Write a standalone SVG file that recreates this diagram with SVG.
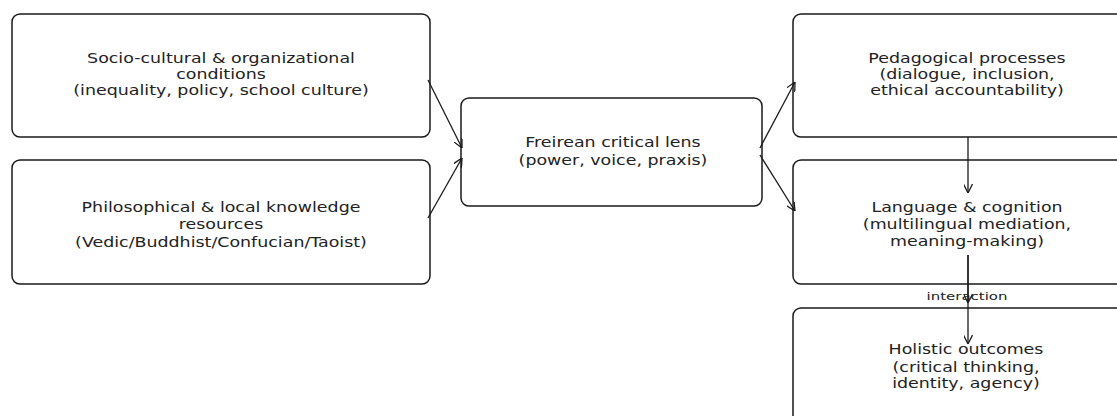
<svg xmlns="http://www.w3.org/2000/svg" width="1117" height="416" viewBox="0 0 1117 416">
<style>
.box{fill:#ffffff;stroke:#1a1a1a;stroke-width:1.5}
.t{font-family:"DejaVu Sans",sans-serif;font-size:14px;fill:#222;text-anchor:middle}
.s{font-family:"DejaVu Sans",sans-serif;font-size:11px;fill:#222;text-anchor:middle}
.c{fill:none;stroke:#1a1a1a;stroke-width:1.3}
</style>
<defs>
<marker id="ah" viewBox="0 0 10 10" refX="10" refY="5" markerWidth="9" markerHeight="9" orient="auto" markerUnits="userSpaceOnUse">
<path d="M0,0 L10,5 L0,10" fill="none" stroke="#1a1a1a" stroke-width="1.4"/>
</marker>
</defs>
<rect width="1117" height="416" fill="#ffffff"/>
<g id="n1"><rect class="box" x="12" y="14" width="418" height="123" rx="8"/>
<g transform="translate(221,0) scale(1.245,1)">
<text class="t" x="0" y="63">Socio-cultural &amp; organizational</text>
<text class="t" x="0" y="79">conditions</text>
<text class="t" x="0" y="95">(inequality, policy, school culture)</text></g></g>
<g id="n2"><rect class="box" x="12" y="160" width="418" height="124" rx="8"/>
<g transform="translate(221,0) scale(1.245,1)">
<text class="t" x="0" y="212">Philosophical &amp; local knowledge</text>
<text class="t" x="0" y="229">resources</text>
<text class="t" x="0" y="247">(Vedic/Buddhist/Confucian/Taoist)</text></g></g>
<g id="n3"><rect class="box" x="461" y="98" width="301" height="108" rx="8"/>
<g transform="translate(613,0) scale(1.245,1)">
<text class="t" x="0" y="147">Freirean critical lens</text>
<text class="t" x="0" y="165">(power, voice, praxis)</text></g></g>
<g id="n4"><rect class="box" x="793" y="14" width="340" height="123" rx="8"/>
<g transform="translate(967,0) scale(1.245,1)">
<text class="t" x="0" y="63">Pedagogical processes</text>
<text class="t" x="0" y="79">(dialogue, inclusion,</text>
<text class="t" x="0" y="95">ethical accountability)</text></g></g>
<g id="n5"><rect class="box" x="793" y="160" width="340" height="124" rx="8"/>
<g transform="translate(967,0) scale(1.245,1)">
<text class="t" x="0" y="212">Language &amp; cognition</text>
<text class="t" x="0" y="229">(multilingual mediation,</text>
<text class="t" x="0" y="246">meaning-making)</text></g></g>
<g id="n6"><rect class="box" x="793" y="308" width="340" height="130" rx="8"/>
<g transform="translate(966,0) scale(1.245,1)">
<text class="t" x="0" y="354">Holistic outcomes</text>
<text class="t" x="0" y="372">(critical thinking,</text>
<text class="t" x="0" y="388">identity, agency)</text></g></g>
<g id="connectors">
<line class="c" x1="428" y1="80" x2="462" y2="148" marker-end="url(#ah)"/>
<line class="c" x1="428" y1="218" x2="462" y2="158" marker-end="url(#ah)"/>
<line class="c" x1="760" y1="148" x2="795" y2="82" marker-end="url(#ah)"/>
<line class="c" x1="760" y1="155" x2="795" y2="211" marker-end="url(#ah)"/>
<line class="c" x1="968" y1="137" x2="968" y2="193" marker-end="url(#ah)"/>
<line class="c" x1="968" y1="255" x2="968" y2="303" marker-end="url(#ah)"/>
<line class="c" x1="968" y1="255" x2="968" y2="344" marker-end="url(#ah)"/>
<g transform="translate(967,0) scale(1.36,1)"><text class="s" x="0" y="300">interaction</text></g>
</g>
</svg>
